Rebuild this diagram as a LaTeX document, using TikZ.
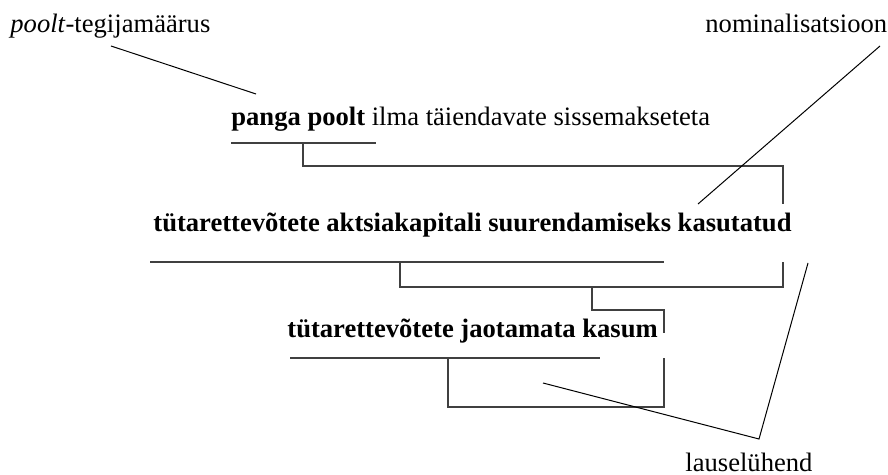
\documentclass[tikz,border=0pt]{standalone}
\usepackage{fontspec}
\setmainfont{Liberation Serif}
\usepackage{tikz}

\tikzset{
  word/.style={anchor=base west,inner sep=0pt,font=\fontsize{13.3}{16}\selectfont},
  phrase/.style={word,font=\fontsize{13.3}{16}\selectfont\bfseries},
  tree/.style={black!75,line width=0.65pt},
  pointer/.style={black,line width=0.5pt}
}

\begin{document}
\begin{tikzpicture}[x=0.5pt,y=-0.5pt]
	\useasboundingbox (0,0) rectangle (888,475);

	%LABELS
	\node[word] (tegija) at (10,33) {\textit{poolt}-tegijamäärus};
	\node[word] (nomin) at (705,33) {nominalisatsioon};
	\node[word] (lyhend) at (685,471) {lauselühend};

	%PHRASES
	\node[word] (panga) at (231,126) {\textbf{panga poolt} ilma täiendavate sissemakseteta};
	\node[phrase] (aktsia) at (153,232) {tütarettevõtete aktsiakapitali suurendamiseks kasutatud};
	\node[phrase] (kasum) at (287,338) {tütarettevõtete jaotamata kasum};

	%TREE
	\coordinate (pj) at (303,143); %panga poolt
	\coordinate (aj) at (400,262); %aktsiakapitali
	\coordinate (aj2) at (592,287);
	\coordinate (kj) at (448,358); %kasum
	\draw[tree] (231,143) -- (376,143);
	\draw[tree] (pj) |- (783,166) -- (783,204);
	\draw[tree] (150,262) -- (664,262);
	\draw[tree] (aj) |- (783,287) -- (783,262);
	\draw[tree] (aj2) |- (664,310) -- (664,333);
	\draw[tree] (290,358) -- (600,358);
	\draw[tree] (kj) |- (664,407) -- (664,358);

	%POINTERS
	\coordinate (p1) at (111,46);
	\coordinate (p2) at (256,94);
	\coordinate (p3) at (880,46);
	\coordinate (p4) at (698,204);
	\coordinate (p5) at (543,383);
	\coordinate (p6) at (759,439);
	\coordinate (p7) at (808,263);
	\draw[pointer] (p1) -- (p2); %tegijamaarus
	\draw[pointer] (p3) -- (p4); %nominalisatsioon
	\draw[pointer] (p5) -- (p6) -- (p7); %lauseluhend
\end{tikzpicture}
\end{document}
